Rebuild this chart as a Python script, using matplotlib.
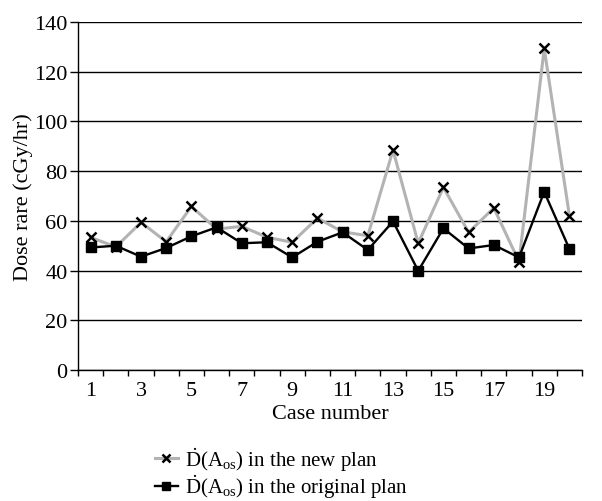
import numpy as np
import matplotlib
matplotlib.use("Agg")
import matplotlib.pyplot as plt

# dose rate per case, cGy/hr
cases = np.arange(1, 21)
new_plan = [53.4, 49.5, 59.4, 51.6, 65.8, 56.7, 57.8, 53.4, 51.4, 61.1,
            55.6, 54.0, 88.5, 51.0, 73.5, 55.4, 65.2, 43.6, 129.4, 62.1]
orig_plan = [49.3, 50.0, 45.6, 49.1, 53.8, 57.4, 51.0, 51.4, 45.3, 51.6,
             55.4, 48.3, 59.8, 39.9, 57.0, 48.9, 50.3, 45.3, 71.7, 48.7]
tick_cases = [1, 3, 5, 7, 9, 11, 13, 15, 17, 19]

plt.rcParams['font.family'] = 'Liberation Serif'
plt.rcParams['mathtext.fontset'] = 'custom'
plt.rcParams['mathtext.rm'] = 'Liberation Serif'
plt.rcParams['mathtext.it'] = 'Liberation Serif:italic'
plt.rcParams['font.size'] = 16

fig = plt.figure(figsize=(6.02, 5.02), dpi=100)
ax = fig.add_axes([0.1296, 0.261, 0.8372, 0.693])

ax.plot(cases, new_plan, color='#b3b3b3', lw=2.2, marker='x', ms=7.5,
        mec='black', mew=1.8, label=r'$\dot{\mathrm{D}}(\mathrm{A}_{\mathrm{os}})$ in the new plan')
ax.plot(cases, orig_plan, color='black', lw=1.7, marker='s', ms=7.5,
        label=r'$\dot{\mathrm{D}}(\mathrm{A}_{\mathrm{os}})$ in the original plan')

ax.set_xlim(0.5, 20.5)
ax.set_ylim(0, 140)
ax.set_yticks(range(0, 141, 20))
ax.set_xticks(tick_cases)
ax.tick_params(axis='x', length=0, pad=8)
ax.set_xticks(np.arange(0.5, 20.6, 1), minor=True)
ax.tick_params(axis='x', which='minor', length=4.5, width=1, direction='out')
ax.tick_params(axis='y', length=6, width=1, direction='out', pad=1.5)
ax.grid(axis='y', color='black', lw=1)
ax.set_axisbelow(True)
for s in ['top', 'right']:
    ax.spines[s].set_visible(False)
for s in ['left', 'bottom']:
    ax.spines[s].set_linewidth(1)

ax.set_xlabel('Case number', labelpad=3)
ax.set_ylabel('Dose rare (cGy/hr)', labelpad=1)

fig.legend(loc='upper left', bbox_to_anchor=(0.2575, 0.112), frameon=False,
           fontsize=15, handlelength=1.1, handletextpad=0.35, labelspacing=0.0,
           borderpad=0, borderaxespad=0, markerscale=0.75)

fig.savefig('out.png', dpi=100)
